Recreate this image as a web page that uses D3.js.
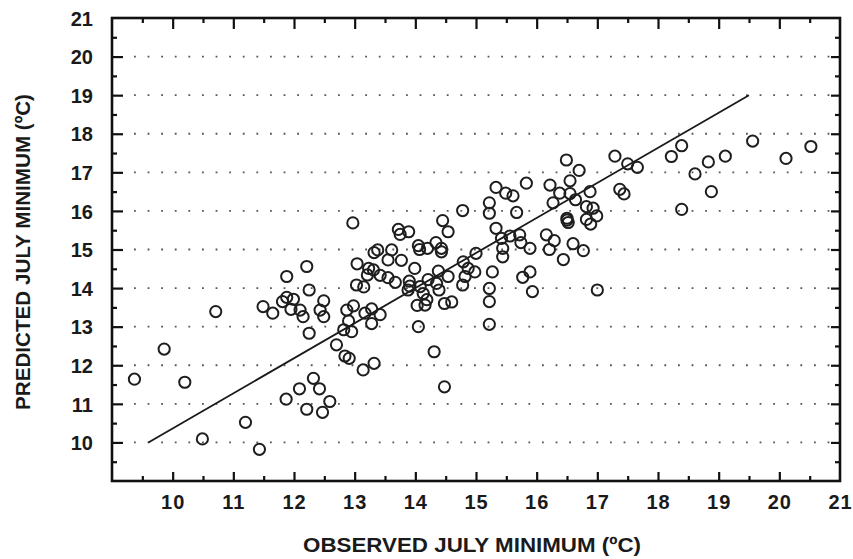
<!DOCTYPE html>
<html><head><meta charset="utf-8">
<script src="https://cdn.jsdelivr.net/npm/d3@7/dist/d3.min.js"></script>
<style>
html,body{margin:0;padding:0;background:#fff;}
svg{display:block;}
text{font-family:"Liberation Sans",Arial,Helvetica,sans-serif;font-weight:bold;fill:#1a1a1a;}
</style></head>
<body>
<svg id="chart" width="853" height="559"></svg>
<script>
// Observed July minimum (x) and predicted July minimum (y), degrees C
const observed = [
 9.37, 9.86,10.20,10.49,10.71,11.20,11.43,11.49,11.65,11.81,
11.88,11.95,11.99,12.10,12.15,11.88,12.21,12.25,12.49,12.43,
12.49,12.25,12.70,11.87,12.09,12.32,12.42,12.21,12.47,12.59,
12.84,12.91,13.32,13.14,12.82,12.95,12.87,12.90,12.98,12.97,
13.04,13.03,13.15,13.17,13.28,13.28,13.42,13.23,13.31,13.21,
13.32,13.38,13.42,13.55,13.55,13.61,13.67,13.77,13.72,13.75,
13.89,13.99,13.90,13.91,13.88,14.05,14.07,14.20,14.34,14.43,
14.43,14.05,14.03,14.16,14.48,14.60,14.13,14.19,14.39,14.35,
14.08,14.21,14.38,14.54,14.31,14.48,14.45,14.54,14.78,15.00,
14.79,14.87,14.98,14.78,14.82,15.27,15.22,15.22,15.22,15.22,
15.22,15.33,15.49,15.61,15.83,15.67,15.33,15.42,15.56,15.72,
15.74,15.44,15.44,15.89,15.77,15.89,15.93,16.22,16.55,16.38,
16.55,16.27,16.64,16.49,16.70,16.88,16.50,16.52,16.50,16.16,
16.29,16.21,16.60,16.77,16.44,16.82,16.93,16.99,16.82,16.89,
17.00,17.29,17.50,17.66,17.37,17.44,18.22,18.39,18.61,18.83,
19.11,19.56,18.88,18.39,20.11,20.52];
const predicted = [
11.64,12.42,11.56,10.09,13.39,10.52, 9.82,13.52,13.35,13.65,
13.76,13.45,13.71,13.43,13.26,14.30,14.56,13.95,13.67,13.43,
13.26,12.83,12.53,11.12,11.39,11.66,11.39,10.86,10.78,11.06,
12.24,12.18,12.05,11.88,12.92,12.87,13.43,13.15,13.54,15.69,
14.63,14.08,14.03,13.35,13.46,13.08,13.31,14.51,14.47,14.34,
14.92,14.99,14.33,14.27,14.73,14.99,14.15,14.72,15.52,15.39,
15.46,14.51,14.18,14.05,13.95,15.10,15.00,15.03,15.18,15.03,
14.94,13.00,13.55,13.56,13.60,13.64,13.86,13.70,13.95,14.12,
14.04,14.22,14.44,14.30,12.35,11.44,15.75,15.46,16.01,14.90,
14.68,14.51,14.42,14.08,14.30,14.42,13.99,13.65,13.06,16.21,
15.94,16.61,16.46,16.39,16.72,15.96,15.55,15.29,15.35,15.38,
15.18,15.03,14.81,15.03,14.28,14.42,13.91,16.67,16.78,16.46,
16.45,16.21,16.29,17.32,17.05,16.50,15.81,15.70,15.76,15.38,
15.23,15.00,15.15,14.97,14.74,16.11,16.07,15.87,15.78,15.66,
13.95,17.42,17.22,17.13,16.56,16.44,17.41,17.69,16.96,17.27,
17.42,17.81,16.50,16.04,17.36,17.67];

// Regression line end points
const fitX = [9.6, 19.5];
const fitY = [10.0, 19.0];

const xTicks = [10,11,12,13,14,15,16,17,18,19,20,21];
const yTicks = [10,11,12,13,14,15,16,17,18,19,20,21];
const gridY = [10,11,12,13,14,15,16,17,18,19,20];
const xTitle = "OBSERVED JULY MINIMUM (ºC)";
const yTitle = "PREDICTED JULY MINIMUM (ºC)";

const L = 112, R = 840, T = 18, B = 481;
const svg = d3.select("#chart");
const x = d3.scaleLinear().domain([9, 21]).range([L, R]);
const y = d3.scaleLinear().domain([9, 21]).range([B, T]);

// dotted grid
svg.append("g").selectAll("line").data(gridY).join("line")
  .attr("x1", L + 22).attr("x2", R - 4)
  .attr("y1", d => y(d)).attr("y2", d => y(d))
  .attr("stroke", "#555").attr("stroke-width", 1.8)
  .attr("stroke-dasharray", "1.8 11.8");

// minor tick values
const minor = d3.range(9.5, 21, 1);
const halfY = d3.range(9.5, 21, 1);

// inward ticks using d3 axes
function tickAxis(gen, transform, values, size) {
  const g = svg.append("g").attr("transform", transform)
    .call(gen.tickValues(values).tickSize(size).tickFormat(""));
  g.select(".domain").remove();
  g.selectAll(".tick line").attr("stroke", "#111").attr("stroke-width", 2.2);
  return g;
}
tickAxis(d3.axisBottom(x), `translate(0,${T})`, xTicks.slice(0, -1), 11);
tickAxis(d3.axisBottom(x), `translate(0,${T})`, minor, 5);
tickAxis(d3.axisTop(x), `translate(0,${B})`, xTicks.slice(0, -1), 9);
tickAxis(d3.axisTop(x), `translate(0,${B})`, minor, 5);
tickAxis(d3.axisRight(y), `translate(${L},0)`, yTicks.slice(0, -1), 11);
tickAxis(d3.axisRight(y), `translate(${L},0)`, halfY, 5);
tickAxis(d3.axisLeft(y), `translate(${R},0)`, yTicks.slice(0, -1), 9);
tickAxis(d3.axisLeft(y), `translate(${R},0)`, halfY, 5);

// tick labels
const xl = svg.append("g").attr("transform", `translate(0,${B})`)
  .call(d3.axisBottom(x).tickValues(xTicks).tickSize(0).tickPadding(0).tickFormat(d3.format("d")));
xl.select(".domain").remove();
xl.selectAll("text").attr("y", 28).attr("dy", 0)
  .style("font-size", "20px").style("font-family", "'Liberation Sans',Arial,sans-serif")
  .style("font-weight", "bold").attr("fill", "#1a1a1a").style("letter-spacing", "1px");
const yl = svg.append("g").attr("transform", `translate(${L},0)`)
  .call(d3.axisLeft(y).tickValues(yTicks).tickSize(0).tickPadding(0).tickFormat(d3.format("d")));
yl.select(".domain").remove();
yl.selectAll("text").attr("x", -19).attr("dy", "0.36em")
  .style("font-size", "20px").style("font-family", "'Liberation Sans',Arial,sans-serif")
  .style("font-weight", "bold").attr("fill", "#1a1a1a");

// frame
svg.append("rect").attr("x", L).attr("y", T).attr("width", R - L).attr("height", B - T)
  .attr("fill", "none").attr("stroke", "#111").attr("stroke-width", 2.6);

// regression line
svg.append("path")
  .datum(d3.zip(fitX, fitY))
  .attr("d", d3.line().x(d => x(d[0])).y(d => y(d[1])))
  .attr("stroke", "#1a1a1a").attr("stroke-width", 1.8).attr("fill", "none");

// points
svg.append("g").selectAll("circle").data(d3.zip(observed, predicted)).join("circle")
  .attr("cx", d => x(d[0])).attr("cy", d => y(d[1])).attr("r", 5.6)
  .attr("fill", "none").attr("stroke", "#1e1e1e").attr("stroke-width", 2);

// titles
svg.append("text").attr("x", 472).attr("y", 552).attr("text-anchor", "middle")
  .attr("textLength", 338).attr("lengthAdjust", "spacingAndGlyphs")
  .style("font-size", "20px").text(xTitle);
svg.append("text").attr("transform", "translate(30,252) rotate(-90)").attr("text-anchor", "middle")
  .attr("textLength", 316).attr("lengthAdjust", "spacingAndGlyphs")
  .style("font-size", "20px").text(yTitle);
</script>
</body></html>
